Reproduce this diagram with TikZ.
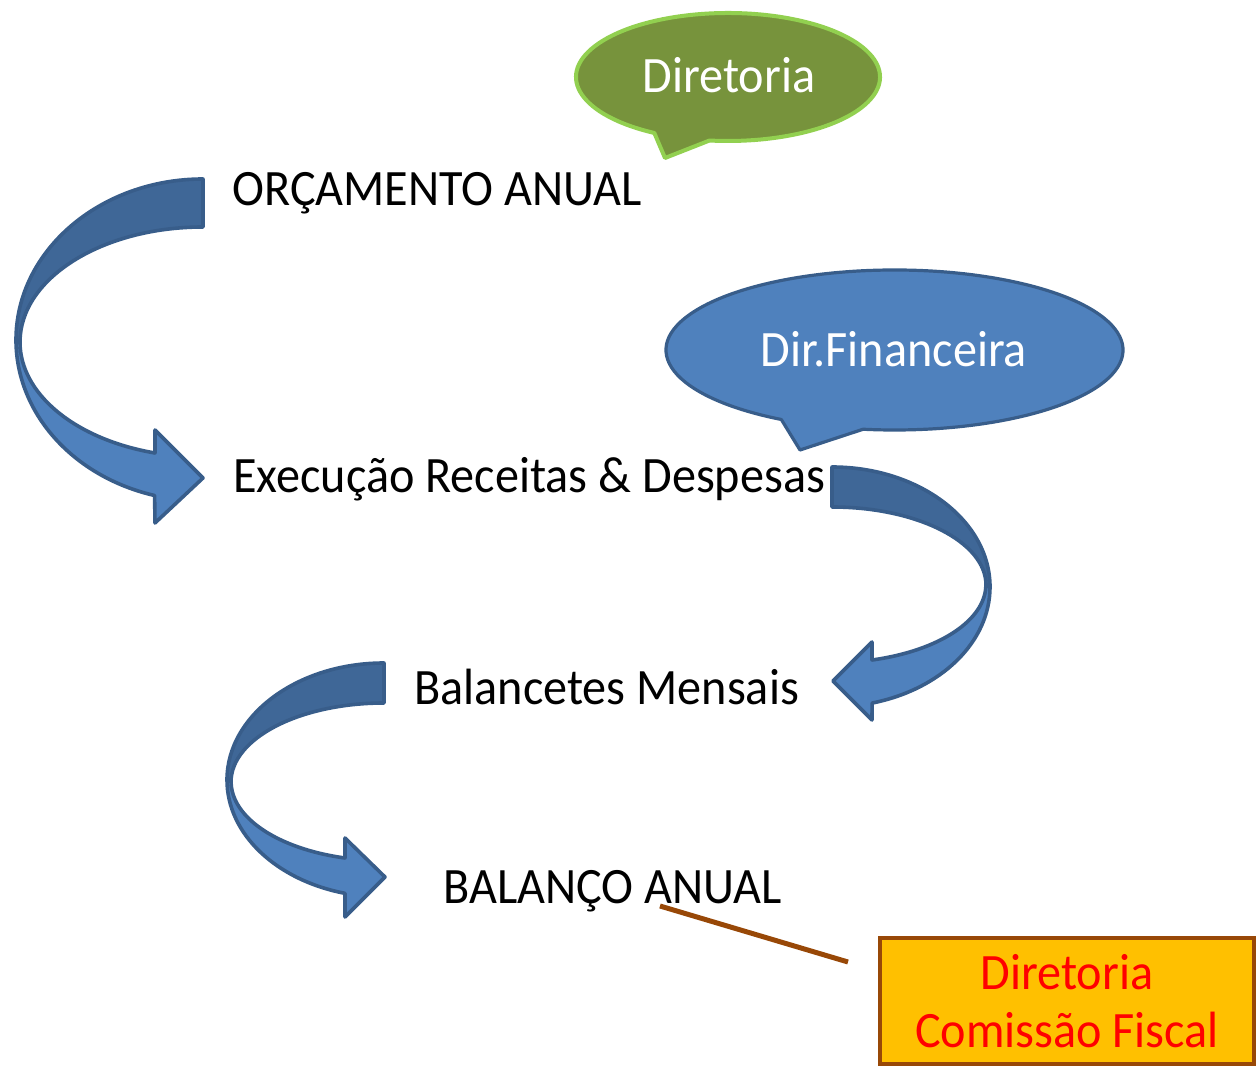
\documentclass[tikz,border=0pt]{standalone}
\usepackage{fontspec}
\setmainfont{Carlito}[FakeStretch=0.945]
\definecolor{ribbonlight}{HTML}{4F81BD}
\definecolor{ribbondark}{HTML}{3F6797}
\definecolor{ribbonline}{HTML}{385D8A}
\definecolor{olivefill}{HTML}{77933C}
\definecolor{oliveline}{HTML}{92D050}
\definecolor{boxfill}{HTML}{FFC000}
\definecolor{boxline}{HTML}{984807}
\tikzset{
  ribbon/.style={draw=ribbonline,line width=1.8pt,line join=round},
  steplabel/.style={anchor=base west,inner sep=0pt,text=black},
  balloontext/.style={anchor=base,inner sep=0pt,text=white},
  fiscalbox/.style={draw=boxline,fill=boxfill,line width=2.2pt,text=red,align=center,
    minimum width=187pt,minimum height=63pt,inner sep=0pt},
  leader/.style={draw=boxline,line width=2.5pt}
}
\begin{document}
\begin{tikzpicture}[x=0.5pt,y=-0.5pt,font=\fontsize{25.5}{29}\selectfont]
\useasboundingbox (0,0) rectangle (1258,1074);

\begin{scope}
\fill[olivefill,draw=oliveline,line width=2pt,line join=round]
  (728,77) ++(119:152 and 64) arc[start angle=119,end angle=457,x radius=152,y radius=64]
  -- (665,158) -- cycle;
\node[balloontext] (diretoria) at (729,93) {Diretoria};
\end{scope}

\begin{scope}
\fill[ribbonlight,draw=ribbonline,line width=1.6pt,line join=round]
  (894.5,350) ++(119.7:228.5 and 80) arc[start angle=119.7,end angle=457.9,x radius=228.5,y radius=80]
  -- (800,450) -- cycle;
\node[balloontext] (financeira) at (894,367) {Dir.Financeira};
\end{scope}

\begin{scope}
\fill[ribbondark,ribbon] (203,179) arc[start angle=270,end angle=180,x radius=187,y radius=161]
  -- (20,342) arc[start angle=180,end angle=270,x radius=183,y radius=115] -- cycle;
\fill[ribbonlight,ribbon] (16,340) arc[start angle=180,end angle=105,x radius=187,y radius=161]
  -- (155,523) -- (203,478) -- (155,430) -- (155,453)
  arc[start angle=105.2,end angle=180,x radius=183,y radius=115] -- cycle;
\end{scope}

\begin{scope}
\fill[ribbondark,ribbon] (832,467) arc[start angle=270,end angle=360,x radius=158,y radius=120]
  -- (986,585) arc[start angle=360,end angle=270,x radius=154,y radius=78] -- cycle;
\fill[ribbonlight,ribbon] (990,587) arc[start angle=0,end angle=75.3,x radius=158,y radius=120]
  -- (872,720) -- (833,681) -- (872,642) -- (872,660)
  arc[start angle=74.9,end angle=0,x radius=154,y radius=78] -- cycle;
\end{scope}

\begin{scope}
\fill[ribbondark,ribbon] (384,663) arc[start angle=270,end angle=180,x radius=157,y radius=117]
  -- (231,782) arc[start angle=180,end angle=270,x radius=153,y radius=79] -- cycle;
\fill[ribbonlight,ribbon] (227,780) arc[start angle=180,end angle=104.4,x radius=157,y radius=117]
  -- (345,917) -- (385,877) -- (345,838) -- (345,858)
  arc[start angle=104.8,end angle=180,x radius=153,y radius=79] -- cycle;
\end{scope}

\node[steplabel] (orcamento) at (232,206) {ORÇAMENTO ANUAL};
\node[steplabel] (execucao) at (233,493) {Execução Receitas \& Despesas};
\node[steplabel] (balancetes) at (414,704) {Balancetes Mensais};
\node[steplabel] (balanco) at (443,903) {BALANÇO ANUAL};

\node[fiscalbox] (fiscal) at (1067,1001) {Diretoria\\Comissão Fiscal};
\coordinate (balanco-tick) at (660,906);
\coordinate (fiscal-tick) at (848,962);
\draw[leader] (balanco-tick) -- (fiscal-tick);

\end{tikzpicture}
\end{document}
